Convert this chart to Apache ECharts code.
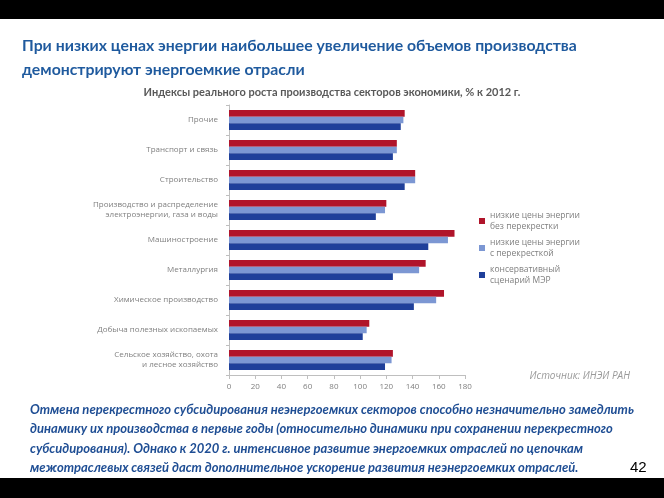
<!DOCTYPE html>
<html>
<head>
<meta charset="utf-8">
<script src="https://cdn.jsdelivr.net/npm/echarts@6/dist/echarts.min.js"></script>
<style>
html,body{margin:0;padding:0;background:#fff;}
#c{width:664px;height:498px;}
</style>
</head>
<body>
<div id="c"></div>
<script>
const categories = [
  "Прочие",
  "Транспорт и связь",
  "Строительство",
  "Производство и распределение\nэлектроэнергии, газа и воды",
  "Машиностроение",
  "Металлургия",
  "Химическое производство",
  "Добыча полезных ископаемых",
  "Сельское хозяйство, охота\nи лесное хозяйство"
];
const seriesNames = [
  "низкие цены энергии\nбез перекрестки",
  "низкие цены энергии\nс перекресткой",
  "консервативный\nсценарий МЭР"
];
const lowNoCross = [134, 128, 142, 120, 172, 150, 164, 107, 125];
const lowCross   = [133, 128, 142, 119, 167, 145, 158, 105, 124];
const conservative = [131, 125, 134, 112, 152, 125, 141, 102, 119];
const xTicks = [0, 20, 40, 60, 80, 100, 120, 140, 160, 180];

const colors = ['#B0142A', '#7C97D3', '#1F3F9A'];
const chart = echarts.init(document.getElementById('c'), null, {renderer: 'canvas'});
const mkSeries = (name, data, i) => ({
  name: name, type: 'bar', data: data,
  barGap: '0%', barCategoryGap: '33%',
  itemStyle: {color: colors[i]},
  animation: false
});
chart.setOption({
  animation: false,
  graphic: [
    {type: 'rect', shape: {x: 0, y: 0, width: 664, height: 19}, style: {fill: '#000'}},
    {type: 'rect', shape: {x: 0, y: 478, width: 664, height: 20}, style: {fill: '#000'}},
    {type: 'text', left: 22, top: 38, style: {text: 'При низких ценах энергии наибольшее увеличение объемов производства', fill: '#1F5A9E', font: 'bold 15.8px Lato, sans-serif'}},
    {type: 'text', left: 22, top: 62, style: {text: 'демонстрируют энергоемкие отрасли', fill: '#1F5A9E', font: 'bold 15.8px Lato, sans-serif'}},
    {type: 'text', left: 'center', top: 87, style: {text: 'Индексы реального роста производства секторов экономики, % к 2012 г.', fill: '#595959', font: 'bold 11px Lato, sans-serif'}},
    {type: 'text', right: 34, top: 371, style: {text: 'Источник: ИНЭИ РАН', fill: '#9A9A9A', font: 'italic 10px "Open Sans", sans-serif'}},
    {type: 'text', left: 'center', top: 400, style: {
      text: 'Отмена перекрестного субсидирования неэнергоемких секторов способно незначительно замедлить\nдинамику их производства в первые годы (относительно динамики при сохранении перекрестного\nсубсидирования). Однако к 2020 г. интенсивное развитие энергоемких отраслей по цепочкам\nмежотраслевых связей даст дополнительное ускорение развития неэнергоемких отраслей.',
      fill: '#1F4E94', font: 'bold italic 13px Lato, sans-serif', align: 'center', lineHeight: 19.5}},
    {type: 'text', left: 630, top: 460, style: {text: '42', fill: '#000', font: '15px "Liberation Sans", sans-serif'}}
  ],
  legend: {
    orient: 'vertical', left: 474, top: 205,
    itemWidth: 6, itemHeight: 6, itemGap: 5, icon: 'rect',
    textStyle: {color: '#7F7F7F', fontSize: 8.5, lineHeight: 11, fontFamily: '"Open Sans", sans-serif'},
    data: seriesNames
  },
  grid: {left: 229, right: 199, top: 105, bottom: 123, containLabel: false},
  xAxis: {
    type: 'value', min: 0, max: 180, interval: 20,
    axisLine: {show: true, lineStyle: {color: '#BFBFBF'}},
    axisTick: {show: true, length: 4, lineStyle: {color: '#BFBFBF'}},
    splitLine: {show: false},
    axisLabel: {color: '#7F7F7F', fontSize: 8, margin: 8, fontFamily: '"Open Sans", sans-serif',
      formatter: v => xTicks.includes(v) ? String(v) : ''}
  },
  yAxis: {
    type: 'category', inverse: true, data: categories,
    axisLine: {show: true, lineStyle: {color: '#BFBFBF'}},
    axisTick: {show: true, length: 3, lineStyle: {color: '#BFBFBF'}},
    axisLabel: {color: '#7F7F7F', fontSize: 8, lineHeight: 10, margin: 11, fontFamily: '"Open Sans", sans-serif'}
  },
  series: [
    mkSeries(seriesNames[0], lowNoCross, 0),
    mkSeries(seriesNames[1], lowCross, 1),
    mkSeries(seriesNames[2], conservative, 2)
  ]
});
</script>
</body>
</html>
